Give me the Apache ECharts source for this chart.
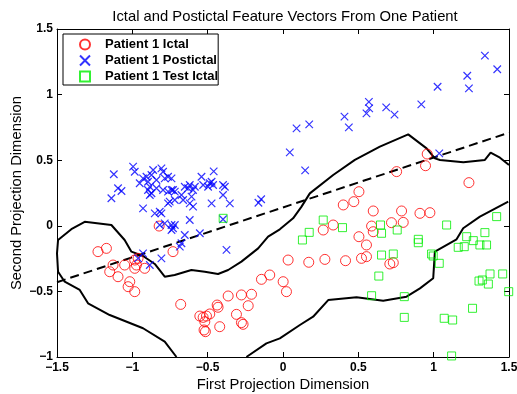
<!DOCTYPE html>
<html>
<head>
<meta charset="utf-8">
<script src="https://cdn.jsdelivr.net/npm/echarts@6/dist/echarts.min.js"></script>
<style>
  html, body { margin: 0; padding: 0; background: #fff; }
  #chart { width: 517px; height: 394px; }
</style>
</head>
<body>
<div id="chart"></div>
<script>
// tick labels of both axes
var xTicks = [-1.5, -1, -0.5, 0, 0.5, 1, 1.5];
var yTicks = [-1, -0.5, 0, 0.5, 1, 1.5];

// Patient 1 Ictal (red circles)
var ictal = [
  [0.957,0.547],[0.946,0.458],[0.754,0.413],[1.234,0.329],[0.504,0.260],[0.470,0.184],
  [0.400,0.159],[0.599,0.113],[0.787,0.113],[0.909,0.095],[0.975,0.100],[0.333,0.006],
  [0.267,-0.032],[0.588,-0.002],[0.599,-0.045],[0.720,0.024],[0.798,0.026],[0.504,-0.083],
  [0.554,-0.146],[0.034,-0.261],[0.171,-0.278],[0.278,-0.256],[0.415,-0.266],[0.521,-0.248],
  [0.554,-0.235],[0.709,-0.291],[0.732,-0.281],[0.001,-0.426],[0.023,-0.502],[-0.143,-0.408],
  [-0.088,-0.375],[-0.364,-0.535],[-0.276,-0.527],[-0.209,-0.522],[-0.231,-0.609],[-0.309,-0.675],
  [-0.276,-0.738],[-0.265,-0.751],[-0.437,-0.604],[-0.431,-0.621],[-0.420,-0.769],[-0.552,-0.688],
  [-0.530,-0.698],[-0.508,-0.688],[-0.486,-0.672],[-0.519,-0.731],[-0.524,-0.794],[-0.515,-0.807],
  [-0.679,-0.599],[-0.730,-0.197],[-0.822,-0.002],[-1.228,-0.197],[-1.172,-0.172],[-1.128,-0.299],
  [-1.051,-0.299],[-0.984,-0.261],[-0.973,-0.299],[-0.984,-0.324],[-0.918,-0.324],[-0.962,-0.248],
  [-1.150,-0.350],[-1.095,-0.388],[-1.017,-0.426],[-1.028,-0.464],[-0.984,-0.502]
];

// Patient 1 Postictal (blue crosses)
var postictal = [
  [1.340,1.297],[1.422,1.193],[1.223,1.144],[1.234,1.048],[1.026,1.060],[0.918,0.926],
  [0.685,0.903],[0.740,0.847],[0.570,0.944],[0.572,0.895],[0.554,0.857],[0.408,0.832],
  [0.437,0.750],[0.174,0.773],[0.090,0.743],[0.045,0.560],[0.147,0.423],[1.037,0.552],
  [-0.145,0.202],[-0.163,0.176],[-0.375,-0.184],[-0.398,0.050],
  [-1.123,0.393],[-0.995,0.451],[-0.984,0.412],[-1.095,0.286],[-1.072,0.265],[-1.139,0.210],
  [-0.929,0.362],[-0.906,0.374],[-0.873,0.387],[-0.862,0.425],[-0.807,0.438],[-0.796,0.412],
  [-0.951,0.324],[-0.896,0.336],[-0.884,0.298],[-0.840,0.349],[-0.785,0.362],[-0.763,0.374],
  [-0.740,0.362],[-0.896,0.273],[-0.884,0.235],[-0.873,0.248],[-0.840,0.286],[-0.796,0.273],
  [-0.763,0.260],[-0.740,0.273],[-0.752,0.184],[-0.763,0.171],[-0.929,0.133],[-0.851,0.095],
  [-0.818,0.107],[-0.807,0.095],[-0.818,0.006],[-0.785,0.019],[-0.740,0.006],[-0.740,-0.032],
  [-0.730,0.273],[-0.718,0.260],[-0.652,0.298],[-0.630,0.286],[-0.619,0.311],[-0.597,0.273],
  [-0.585,0.298],[-0.530,0.311],[-0.497,0.298],[-0.486,0.324],[-0.464,0.311],[-0.460,0.415],
  [-0.474,0.336],[-0.386,0.298],[-0.398,0.311],[-0.541,0.374],[-0.718,0.197],[-0.663,0.197],
  [-0.619,0.171],[-0.597,0.146],[-0.607,0.222],[-0.674,0.235],[-0.474,0.171],[-0.398,0.235],
  [-0.353,0.171],[-0.619,0.044],[-0.718,0.006],[-0.730,-0.019],[-0.652,-0.070],[-0.552,-0.057],
  [-0.674,-0.133],[-0.685,-0.159],[-0.929,-0.210],[-0.884,-0.299],[-0.807,-0.248],[-0.962,-0.248]
];

// Patient 1 Test Ictal (green squares)
var testIctal = [
  [1.418,0.070],[0.267,0.044],[0.174,-0.050],[0.129,-0.108],[0.395,-0.014],[0.647,0.006],
  [0.654,-0.057],[0.758,-0.032],[1.086,0.006],[0.898,-0.103],[0.898,-0.129],[1.219,-0.083],
  [1.263,-0.113],[1.163,-0.164],[1.203,-0.159],[1.340,-0.052],[1.307,-0.146],[1.351,-0.146],
  [0.986,-0.215],[0.997,-0.230],[1.037,-0.286],[0.654,-0.223],[0.732,-0.215],[0.636,-0.383],
  [1.374,-0.367],[1.458,-0.367],[1.301,-0.421],[1.323,-0.413],[1.363,-0.444],[1.498,-0.502],
  [0.588,-0.533],[0.805,-0.540],[1.258,-0.629],[0.805,-0.698],[1.070,-0.705],[1.126,-0.718],
  [1.119,-0.992],[-0.397,0.057]
];

// solid boundary: left loop continuing along the upper edge
var upperBoundary = [
  [-0.707,-1.0],[-0.785,-0.883],[-0.929,-0.781],[-1.150,-0.680],[-1.294,-0.591],[-1.349,-0.489],
  [-1.449,-0.426],[-1.493,-0.350],[-1.5,-0.210],[-1.493,-0.108],[-1.405,-0.026],[-1.316,0.030],
  [-1.139,0.006],[-1.051,-0.108],[-1.006,-0.197],[-0.929,-0.230],[-0.851,-0.291],[-0.785,-0.388],
  [-0.719,-0.375],[-0.608,-0.337],[-0.519,-0.350],[-0.431,-0.367],[-0.364,-0.337],[-0.276,-0.273],
  [-0.165,-0.172],[-0.099,-0.083],[-0.021,-0.027],[0.067,0.057],[0.123,0.146],[0.178,0.247],
  [0.333,0.387],[0.477,0.502],[0.643,0.603],[0.831,0.697],[0.953,0.590],[1.008,0.514],
  [1.042,0.502],[1.197,0.484],[1.340,0.502],[1.378,0.557],[1.440,0.519],[1.500,0.463]
];

// solid boundary: lower edge
var lowerBoundary = [
  [-0.243,-1.0],[-0.110,-0.896],[-0.021,-0.858],[0.112,-0.756],[0.200,-0.693],[0.300,-0.566],
  [0.488,-0.545],[0.665,-0.571],[0.820,-0.540],[0.909,-0.477],[0.997,-0.400],[1.008,-0.197],
  [1.019,-0.184],[1.152,-0.103],[1.196,-0.019],[1.307,0.070],[1.495,0.184]
];

// dashed separating line
var dashedLine = [[-1.5,-0.43],[1.5,0.71]];

var font = 'Liberation Sans, Arial, Helvetica, sans-serif';

function tickText(v) {
  return String(v).replace('-', '\u2212');
}

function frameAxis(extra) {
  var base = {
    type: 'value',
    axisLine: { onZero: false, lineStyle: { color: '#000', width: 1 } },
    axisTick: { inside: true, length: 5, lineStyle: { color: '#000' } },
    axisLabel: { show: false },
    splitLine: { show: false }
  };
  return Object.assign(base, extra);
}

var chart = echarts.init(document.getElementById('chart'));
var option = {
  animation: false,
  backgroundColor: '#fff',
  title: {
    text: 'Ictal and Postictal Feature Vectors From One Patient',
    left: 280, top: 4, textAlign: 'center',
    textStyle: { fontFamily: font, fontSize: 14.8, fontWeight: 'normal', color: '#000' }
  },
  grid: { left: 57, right: 8, top: 29, bottom: 37, containLabel: false, outerBoundsMode: 'none' },
  legend: {
    orient: 'vertical', left: 63, top: 34,
    padding: [4, 0, 2, 16], itemWidth: 30, itemHeight: 10, itemGap: 3,
    borderColor: '#000', borderWidth: 1, backgroundColor: '#fff',
    data: [
      { name: 'Patient 1 Ictal' },
      { name: 'Patient 1 Postictal', icon: 'path://M0,0L10,10M10,0L0,10' },
      { name: 'Patient 1 Test Ictal', icon: 'path://M0,0L10,0L10,10L0,10Z' }
    ],
    textStyle: { fontFamily: font, fontSize: 13, fontWeight: 'bold', color: '#000' }
  },
  xAxis: [
    frameAxis({
      min: -1.5, max: 1.5, interval: 0.5,
      name: 'First Projection Dimension', nameLocation: 'middle', nameGap: 20,
      nameMoveOverlap: false,
      nameTextStyle: { fontFamily: font, fontSize: 14.8, color: '#000' },
      axisLabel: { fontFamily: font, fontSize: 12, fontWeight: 'bold', color: '#000', margin: 5,
        formatter: tickText }
    }),
    frameAxis({ position: 'top', min: -1.5, max: 1.5, interval: 0.5 })
  ],
  yAxis: [
    frameAxis({
      min: -1, max: 1.5, interval: 0.5,
      name: 'Second Projection Dimension', nameLocation: 'middle', nameGap: 33,
      nameMoveOverlap: false,
      nameTextStyle: { fontFamily: font, fontSize: 14.8, color: '#000' },
      axisLabel: { fontFamily: font, fontSize: 12, fontWeight: 'bold', color: '#000', margin: 4,
        formatter: tickText }
    }),
    frameAxis({ position: 'right', min: -1, max: 1.5, interval: 0.5 })
  ],
  series: [
    {
      name: 'boundaryUpper', type: 'line', data: upperBoundary, showSymbol: false, symbol: 'none',
      lineStyle: { color: '#000', width: 2 }, silent: true, z: 1
    },
    {
      name: 'boundaryLower', type: 'line', data: lowerBoundary, showSymbol: false, symbol: 'none',
      lineStyle: { color: '#000', width: 2 }, silent: true, z: 1
    },
    {
      name: 'separator', type: 'line', data: dashedLine, showSymbol: false, symbol: 'none',
      lineStyle: { color: '#000', width: 2, type: [9, 5] }, silent: true, z: 1
    },
    {
      name: 'Patient 1 Ictal', type: 'scatter', data: ictal,
      symbol: 'circle', symbolSize: 10,
      itemStyle: { color: 'rgba(0,0,0,0)', borderColor: '#ff0000', borderWidth: 1 }, z: 3
    },
    {
      name: 'Patient 1 Postictal', type: 'scatter', data: postictal,
      symbol: 'path://M0,0L10,10M10,0L0,10', symbolSize: 7.5,
      itemStyle: { color: 'rgba(0,0,0,0)', borderColor: '#0000ff', borderWidth: 1.2 }, z: 3
    },
    {
      name: 'Patient 1 Test Ictal', type: 'scatter', data: testIctal,
      symbol: 'rect', symbolSize: 8,
      itemStyle: { color: 'rgba(0,0,0,0)', borderColor: '#00ee00', borderWidth: 1 }, z: 3
    }
  ]
};
chart.setOption(option);
</script>
</body>
</html>
